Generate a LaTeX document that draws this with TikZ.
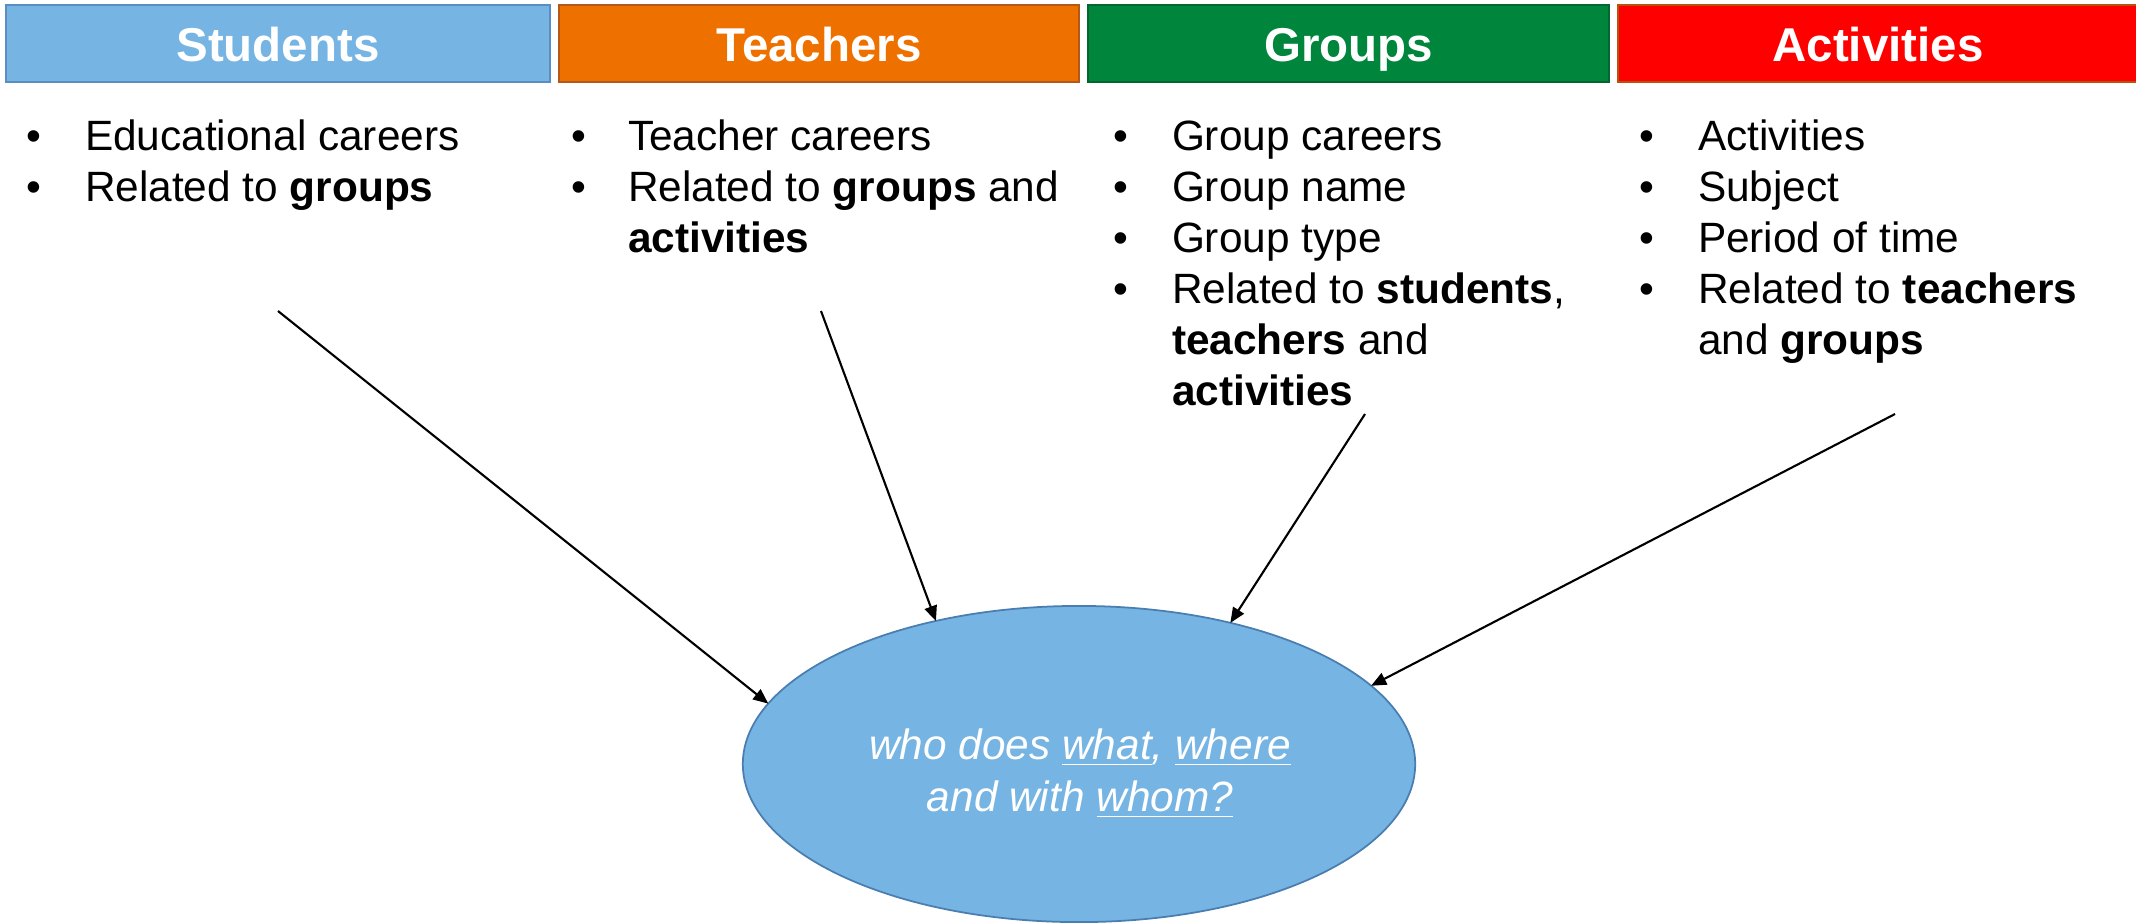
\documentclass[tikz,border=0pt]{standalone}
\usepackage{fontspec}
\setmainfont{Liberation Sans}
\usetikzlibrary{shapes.geometric, arrows.meta}

\definecolor{studfill}{HTML}{75B4E3}
\definecolor{studline}{HTML}{5A8DC0}
\definecolor{teachfill}{HTML}{EE7100}
\definecolor{teachline}{HTML}{B4581A}
\definecolor{groupfill}{HTML}{00853D}
\definecolor{groupline}{HTML}{03662F}
\definecolor{actfill}{HTML}{FF0000}
\definecolor{actline}{HTML}{B8520F}
\definecolor{ellline}{HTML}{4A7EB0}

\begin{document}
\begin{tikzpicture}[x=0.01cm, y=-0.01cm,
  every node/.style={inner sep=0pt, outer sep=0pt, font=\fontsize{12.05pt}{14.5pt}\selectfont},
  head/.style={draw, line width=0.7pt, minimum height=0.77cm, text=white,
    font=\fontsize{13.5pt}{16pt}\selectfont\bfseries, text height=0.36cm, text depth=0pt},
  txt/.style={anchor=base west},
  qtxt/.style={anchor=base, text=white, font=\fontsize{12.05pt}{14.5pt}\selectfont\itshape},
  link/.style={-{Triangle[length=4.3pt, width=3.6pt]}, line width=0.6pt}]

\useasboundingbox (0,0) rectangle (2136,923);

% Header boxes
\node[head, fill=studfill, draw=studline, minimum width=5.44cm] (students) at (278,43.5) {Students};
\node[head, fill=teachfill, draw=teachline, minimum width=5.2cm] (teachers) at (819,43.5) {Teachers};
\node[head, fill=groupfill, draw=groupline, minimum width=5.21cm] (groups) at (1348.5,43.5) {Groups};
\node[head, fill=actfill, draw=actline, minimum width=5.2cm] (activities) at (1878,43.5) {Activities};

% Students column
\node[txt] (sb1) at (27,150) {\textbullet};
\node[txt] (s1) at (85,150) {Educational careers};
\node[txt] (sb2) at (27,201) {\textbullet};
\node[txt] (s2) at (85,201) {Related to \textbf{groups}};

% Teachers column
\node[txt] (tb1) at (571,150) {\textbullet};
\node[txt] (t1) at (628,150) {Teacher careers};
\node[txt] (tb2) at (571,201) {\textbullet};
\node[txt] (t2) at (628,201) {Related to \textbf{groups} and};
\node[txt] (t3) at (628,252) {\textbf{activities}};

% Groups column
\node[txt] (gb1) at (1113,150) {\textbullet};
\node[txt] (g1) at (1172,150) {Group careers};
\node[txt] (gb2) at (1113,201) {\textbullet};
\node[txt] (g2) at (1172,201) {Group name};
\node[txt] (gb3) at (1113,252) {\textbullet};
\node[txt] (g3) at (1172,252) {Group type};
\node[txt] (gb4) at (1113,303) {\textbullet};
\node[txt] (g4) at (1172,303) {Related to \textbf{students},};
\node[txt] (g5) at (1172,354) {\textbf{teachers} and};
\node[txt] (g6) at (1172,405) {\textbf{activities}};

% Activities column
\node[txt] (ab1) at (1639,150) {\textbullet};
\node[txt] (a1) at (1698,150) {Activities};
\node[txt] (ab2) at (1639,201) {\textbullet};
\node[txt] (a2) at (1698,201) {Subject};
\node[txt] (ab3) at (1639,252) {\textbullet};
\node[txt] (a3) at (1698,252) {Period of time};
\node[txt] (ab4) at (1639,303) {\textbullet};
\node[txt] (a4) at (1698,303) {Related to \textbf{teachers}};
\node[txt] (a5) at (1698,354) {and \textbf{groups}};

% Question ellipse
\node[ellipse, draw=ellline, line width=0.5pt, fill=studfill, minimum width=6.72cm, minimum height=3.16cm] (question) at (1079,764) {};
\node[qtxt] (q1) at (1080,759) {who does \underline{what}, \underline{where}};
\node[qtxt] (q2) at (1080,811) {and with \underline{whom?}};

% Arrows into the ellipse
\coordinate (fromS) at (278,311);
\coordinate (fromT) at (821,311);
\coordinate (fromG) at (1365,414);
\coordinate (fromA) at (1895,414);
\draw[link] (fromS) -- (question.169);
\draw[link] (fromT) -- (question.135);
\draw[link] (fromG) -- (question.43.8);
\draw[link] (fromA) -- (question.15.5);

\end{tikzpicture}
\end{document}
